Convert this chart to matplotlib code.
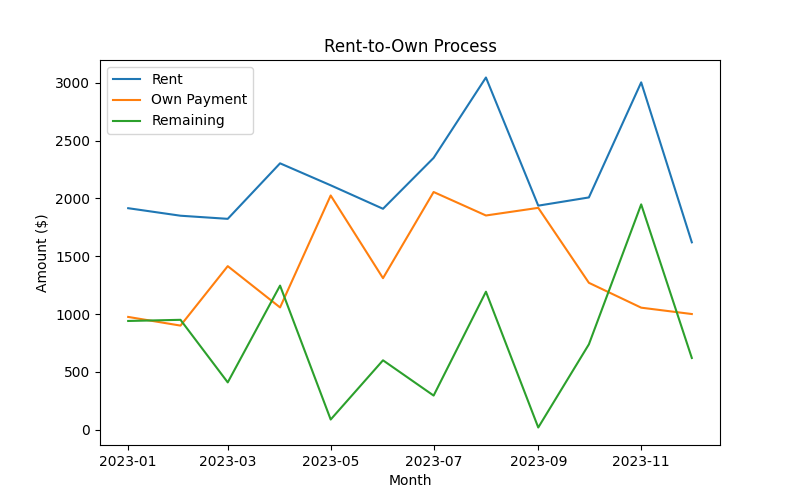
import pandas as pd
import matplotlib
matplotlib.use("Agg")
import matplotlib.pyplot as plt

months = pd.date_range("2023-01-01", periods=12, freq="MS")
rent = [1915, 1850, 1823, 2303, 2113, 1910, 2350, 3045, 1937, 2008, 3003, 1620]
own_payment = [975, 900, 1414, 1057, 2025, 1310, 2055, 1852, 1918, 1270, 1055, 1000]
remaining = [940, 950, 409, 1246, 88, 600, 295, 1193, 19, 738, 1948, 620]

fig, ax = plt.subplots(figsize=(8, 5), dpi=100)
ax.plot(months, rent, label="Rent")
ax.plot(months, own_payment, label="Own Payment")
ax.plot(months, remaining, label="Remaining")

ax.set_title("Rent-to-Own Process")
ax.set_xlabel("Month")
ax.set_ylabel("Amount ($)")
ax.legend(loc="upper left")

fig.savefig("out.png")
